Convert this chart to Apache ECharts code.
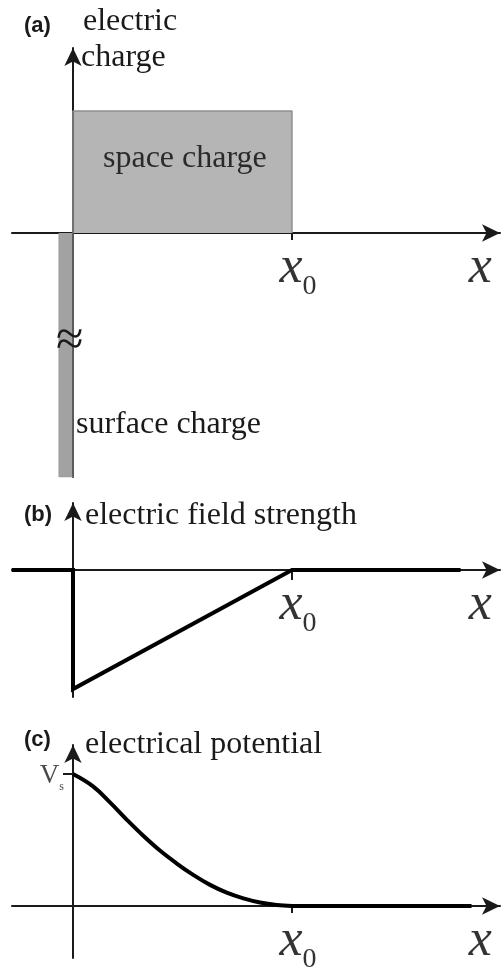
<!DOCTYPE html>
<html>
<head>
<meta charset="utf-8">
<script src="https://cdn.jsdelivr.net/npm/echarts@6/dist/echarts.min.js"></script>
<style>
  html, body { margin: 0; padding: 0; background: #fff; }
  #chart { width: 501px; height: 976px; }
</style>
</head>
<body>
<div id="chart"></div>
<script>
// Depletion width x0 (horizontal unit of all three panels)
const depletionWidth = 1;

// (a) charge density: uniform space charge and a thin surface charge layer
const spaceChargeDensity = 1;
const surfaceChargeDensity = -2;
const surfaceLayerWidth = 0.064;

// (b) electric field strength (normalised to its surface value)
const fieldX = [-0.28, 0, 0, 1, 1.77];
const fieldE = [0, 0, -1, 0, 0];

// (c) electrical potential (normalised to Vs)
const potentialX = [0, 0.093, 0.169, 0.245, 0.321, 0.397, 0.474, 0.549, 0.626, 0.702, 0.778, 0.854, 0.930, 1.0];
const potentialV = [1, 0.905, 0.785, 0.655, 0.532, 0.420, 0.322, 0.236, 0.160, 0.101, 0.058, 0.027, 0.008, 0];
const potentialTailX = [1.0, 1.82];
const potentialTailV = [0, 0];

// Tick labels
const xLabelValues = [depletionWidth, 1.833];
const xLabelTexts = ['x0', 'x'];
const surfacePotential = 1;
const potentialTickLabel = 'Vs';

// ---- layout ----
const INK = '#1a1a1a';
const SERIF = '"Liberation Serif", "DejaVu Serif", serif';
const SANS_BOLD = 'bold 22px "Liberation Sans", Arial, sans-serif';
const TEXT_FONT = '32px ' + SERIF;
const xMin = -0.2785, xMax = 1.950;
const panels = [
  { top: 48, height: 429, yMin: -2.0, yMax: 1.516 },
  { top: 503, height: 194, yMin: -1.067, yMax: 0.563 },
  { top: 745, height: 213, yMin: -0.394, yMax: 1.220 }
];

const zip = (xs, ys) => xs.map((x, i) => [x, ys[i]]);

function xAxis(gridIndex, tickLen) {
  return {
    type: 'value', gridIndex, min: xMin, max: xMax,
    splitLine: { show: false },
    axisLine: {
      onZero: true, symbol: ['none', 'arrow'], symbolSize: [13, 18],
      lineStyle: { color: INK, width: 2 }
    },
    axisTick: {
      show: true, customValues: [depletionWidth], length: tickLen, inside: false,
      lineStyle: { color: INK, width: 2 }
    },
    axisLabel: { show: false }
  };
}

function yAxis(gridIndex, p, extra) {
  return Object.assign({
    type: 'value', gridIndex, min: p.yMin, max: p.yMax, z: 3,
    splitLine: { show: false },
    axisLine: {
      onZero: true, symbol: ['none', 'arrow'], symbolSize: [13, 18],
      lineStyle: { color: INK, width: 2 }
    },
    axisTick: { show: false },
    axisLabel: { show: false }
  }, extra || {});
}

// "x0" / "x" labels placed under the horizontal axis at their data positions
function xLabelSeries(i) {
  return {
    type: 'scatter', xAxisIndex: i, yAxisIndex: i, silent: true,
    symbolSize: 0,
    data: xLabelValues.map(v => [v, 0]),
    label: {
      show: true, position: 'bottom', distance: 16, offset: [6, 0],
      formatter: p => {
        const t = xLabelTexts[p.dataIndex];
        return t.length > 1 ? '{v|' + t[0] + '}{s|' + t.slice(1) + '}' : '{v|' + t + '}';
      },
      rich: {
        v: { fontFamily: SERIF, fontStyle: 'italic', fontSize: 52, lineHeight: 52, color: '#000', padding: [0, 0, 14, 0] },
        s: { fontFamily: SERIF, fontSize: 28, lineHeight: 28, color: '#000', verticalAlign: 'bottom' }
      }
    }
  };
}

const option = {
  animation: false,
  backgroundColor: '#fff',
  grid: panels.map(p => ({ left: 12, width: 488, top: p.top, height: p.height, containLabel: false, outerBoundsMode: 'none' })),
  xAxis: [xAxis(0, 7), xAxis(1, 10), xAxis(2, 7)],
  yAxis: [
    yAxis(0, panels[0]),
    yAxis(1, panels[1]),
    yAxis(2, panels[2], {
      axisTick: {
        show: true, customValues: [surfacePotential], length: 10, inside: false,
        lineStyle: { color: INK, width: 2 }
      }
    })
  ],
  series: [
    {
      name: 'space charge', type: 'line', xAxisIndex: 0, yAxisIndex: 0,
      symbol: 'none', silent: true,
      data: [[0, 0], [0, spaceChargeDensity], [depletionWidth, spaceChargeDensity], [depletionWidth, 0]],
      lineStyle: { color: '#8f8f8f', width: 1.5 },
      areaStyle: { color: '#b5b5b5', opacity: 1 }
    },
    {
      name: 'surface charge', type: 'line', xAxisIndex: 0, yAxisIndex: 0,
      symbol: 'none', silent: true,
      data: [[-surfaceLayerWidth, 0], [-surfaceLayerWidth, surfaceChargeDensity], [0, surfaceChargeDensity], [0, 0]],
      lineStyle: { color: '#9c9c9c', width: 1 },
      areaStyle: { color: '#a2a2a2', opacity: 1 }
    },
    {
      name: 'electric field strength', type: 'line', xAxisIndex: 1, yAxisIndex: 1,
      symbol: 'none', silent: true,
      data: zip(fieldX, fieldE),
      lineStyle: { color: '#000', width: 4, join: 'miter', cap: 'butt' }
    },
    {
      name: 'electrical potential', type: 'line', xAxisIndex: 2, yAxisIndex: 2,
      symbol: 'none', silent: true, smooth: 0.4,
      data: zip(potentialX, potentialV),
      lineStyle: { color: '#000', width: 4, cap: 'butt' }
    },
    {
      name: 'electrical potential (x > x0)', type: 'line', xAxisIndex: 2, yAxisIndex: 2,
      symbol: 'none', silent: true,
      data: zip(potentialTailX, potentialTailV),
      lineStyle: { color: '#000', width: 4, cap: 'butt' }
    },
    xLabelSeries(0),
    xLabelSeries(1),
    xLabelSeries(2),
    {
      // Vs label beside its tick on the potential axis
      type: 'scatter', xAxisIndex: 2, yAxisIndex: 2, silent: true, symbolSize: 0,
      data: [[0, surfacePotential]],
      label: {
        show: true, position: 'left', distance: 9, offset: [0, 5],
        formatter: () => '{v|' + potentialTickLabel[0] + '}{s|' + potentialTickLabel.slice(1) + '}',
        rich: {
          v: { fontFamily: SERIF, fontSize: 27, lineHeight: 27, color: INK, padding: [0, 0, 6, 0] },
          s: { fontFamily: SERIF, fontSize: 12, lineHeight: 12, color: INK, verticalAlign: 'bottom' }
        }
      }
    }
  ],
  graphic: [
    { type: 'text', z: 100, left: 24, top: 15, style: { text: '(a)', font: SANS_BOLD, fill: INK } },
    { type: 'text', z: 100, left: 83, top: 6, style: { text: 'electric', font: TEXT_FONT, fill: INK } },
    { type: 'text', z: 100, left: 81, top: 42, style: { text: 'charge', font: TEXT_FONT, fill: INK } },
    { type: 'text', z: 100, left: 103, top: 143, style: { text: 'space charge', font: TEXT_FONT, fill: '#2a2a2a' } },
    { type: 'text', z: 100, left: 76, top: 409, style: { text: 'surface charge', font: TEXT_FONT, fill: INK } },
    { type: 'text', z: 100, left: 56, top: 317, style: { text: '\u2248', font: '50px ' + SERIF, fill: INK } },
    { type: 'text', z: 100, left: 24, top: 504, style: { text: '(b)', font: SANS_BOLD, fill: INK } },
    { type: 'text', z: 100, left: 85, top: 500, style: { text: 'electric field strength', font: TEXT_FONT, fill: INK } },
    { type: 'text', z: 100, left: 24, top: 729, style: { text: '(c)', font: SANS_BOLD, fill: INK } },
    { type: 'text', z: 100, left: 85, top: 729, style: { text: 'electrical potential', font: TEXT_FONT, fill: INK } }
  ]
};

const chart = echarts.init(document.getElementById('chart'), null, { renderer: 'canvas' });
chart.setOption(option);
</script>
</body>
</html>
